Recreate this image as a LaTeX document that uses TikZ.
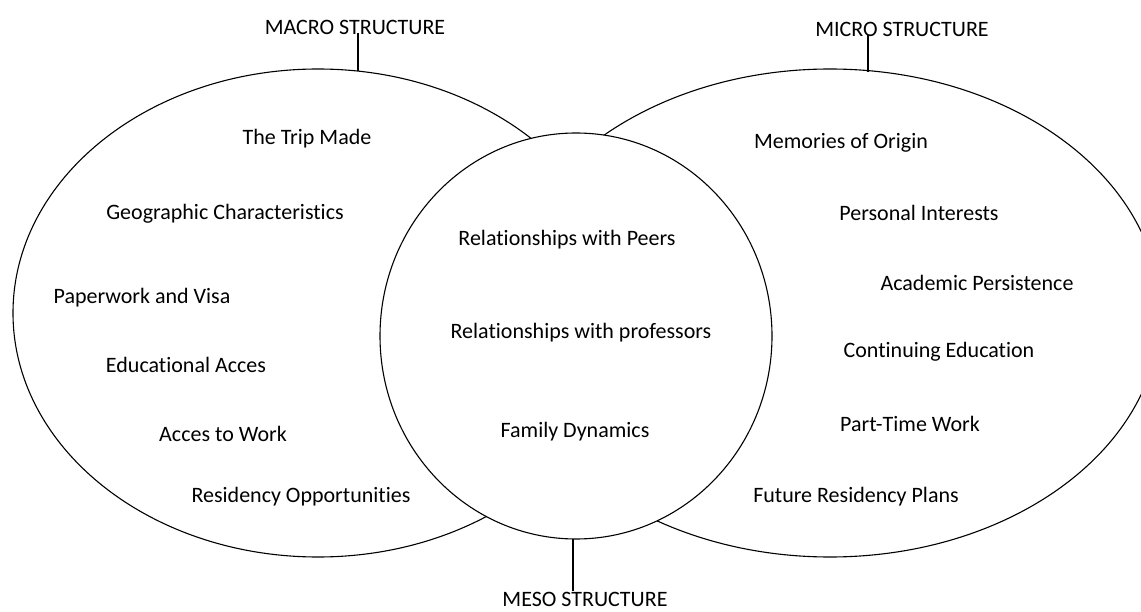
\documentclass[tikz,border=0pt]{standalone}
\usepackage{fontspec}
\setmainfont{Carlito}[Ligatures={NoCommon}]
\usetikzlibrary{shapes.geometric}
\begin{document}
\begin{tikzpicture}[x=1pt,y=-1pt,
  outline/.style={draw=black, line width=1.1pt, ellipse, inner sep=0pt, outer sep=0pt},
  lbl/.style={font=\fontsize{22}{26}\selectfont, inner sep=0pt, anchor=center},
  tick/.style={draw=black, line width=1.1pt}]
\clip (0,0) rectangle (1141,612);
\useasboundingbox (0,0) rectangle (1141,612);
% outlines
\node[outline, minimum width=610pt, minimum height=488pt] (macroE) at (318,313) {};
\node[outline, minimum width=660pt, minimum height=488pt] (microE) at (830,313) {};
\node[outline, fill=white, minimum width=392pt, minimum height=406pt] (mesoE) at (576,336) {};
% headings
\node[lbl] (macro) at (355,27) {MACRO STRUCTURE};
\node[lbl] (micro) at (902,29) {MICRO STRUCTURE};
\node[lbl, anchor=base] (meso) at (585,606) {MESO STRUCTURE};
\coordinate (macroT) at (358,71);
\coordinate (microT) at (868,72);
\coordinate (mesoT) at (573,539);
\draw[tick] (macroT) -- (macroT |- 0,33);
\draw[tick] (microT) -- (microT |- 0,35);
\draw[tick] (mesoT) -- (mesoT |- 0,591);
% macro items
\node[lbl] (m1) at (307,139) {The Trip Made};
\node[lbl] (m2) at (225,214) {Geographic Characteristics};
\node[lbl] (m3) at (142,298) {Paperwork and Visa};
\node[lbl] (m4) at (186,365) {Educational Acces};
\node[lbl] (m5) at (223,434) {Acces to Work};
\node[lbl] (m6) at (301,497) {Residency Opportunities};
% meso items
\node[lbl] (s1) at (567,240) {Relationships with Peers};
\node[lbl] (s2) at (581,333) {Relationships with professors};
\node[lbl] (s3) at (575,432) {Family Dynamics};
% micro items
\node[lbl] (r1) at (841,143) {Memories of Origin};
\node[lbl] (r2) at (919,213) {Personal Interests};
\node[lbl] (r3) at (977,283) {Academic Persistence};
\node[lbl] (r4) at (939,352) {Continuing Education};
\node[lbl] (r5) at (910,424) {Part-Time Work};
\node[lbl] (r6) at (856,497) {Future Residency Plans};
\end{tikzpicture}
\end{document}
